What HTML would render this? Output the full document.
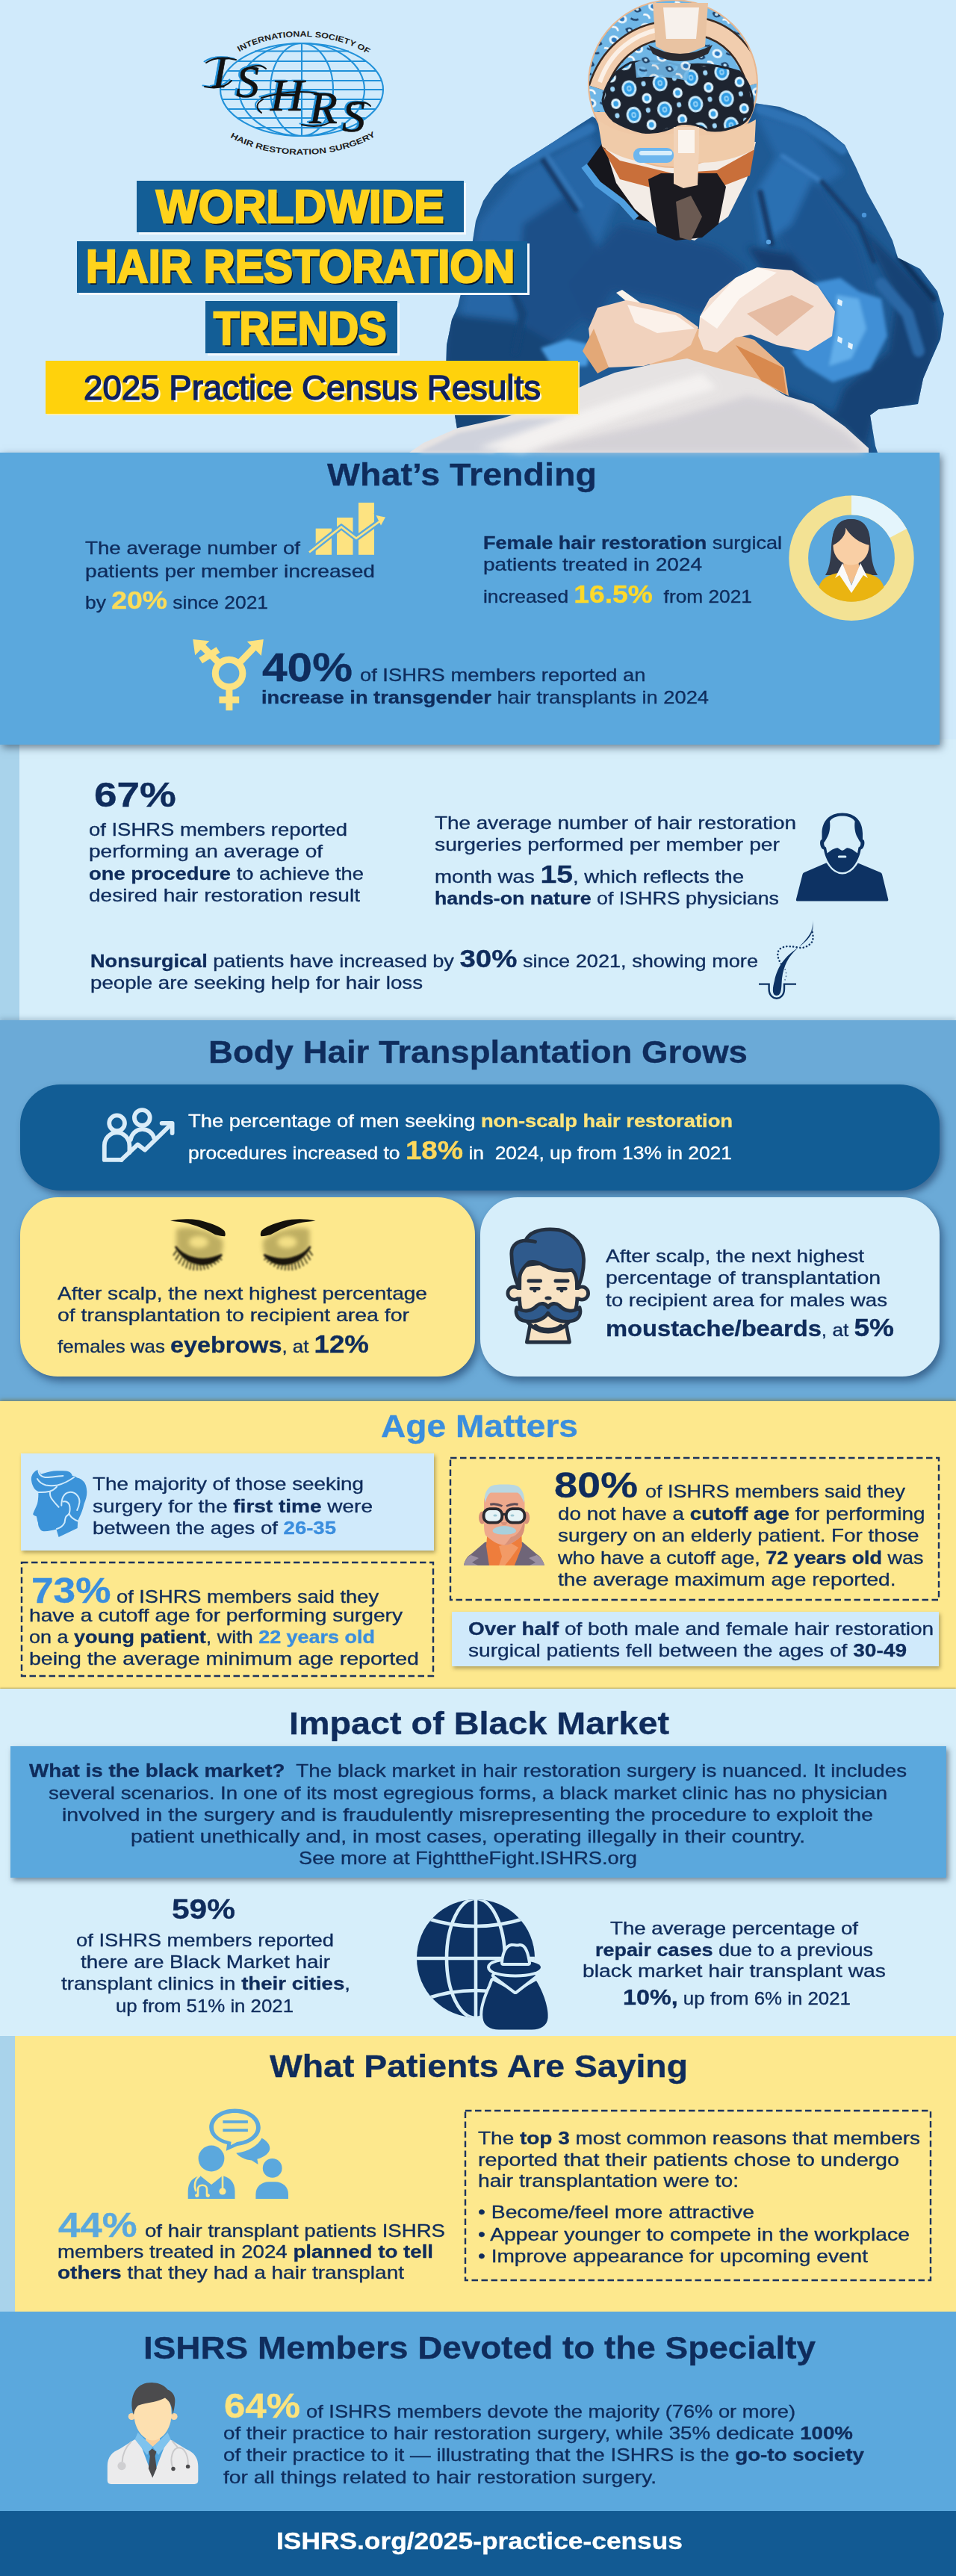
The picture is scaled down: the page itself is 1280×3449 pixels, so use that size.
<!DOCTYPE html>
<html lang="en"><head><meta charset="utf-8"><title>Worldwide Hair Restoration Trends - 2025 Practice Census Results</title>
<style>
html,body{margin:0;padding:0}
body{background:#d0eafb;font-family:"Liberation Sans",sans-serif;color:#0f2c5c}
#page{position:relative;width:1280px;height:3449px;overflow:hidden;background:#d0eafb}
.r{position:absolute}
.l{position:absolute;white-space:pre;line-height:0;transform-origin:0 0;color:#0f2c5c;-webkit-text-stroke:0.35px}
.l::before{content:"";display:inline-block;height:100px;width:0}
.l b{font-weight:bold}
svg{position:absolute;overflow:visible}
.y{color:#fce37c}
.bl{color:#3b8ede}

</style></head><body>
<div id="page">
<!-- section 2 (67%) background -->
<div class="r" style="left:0;top:990px;width:1280px;height:380px;background:#d6eefa"></div>
<div class="r" style="left:0;top:990px;width:26px;height:380px;background:#a9d3eb"></div>
<!-- Body hair section -->
<div class="r" style="left:0;top:1366px;width:1280px;height:512px;background:#6baad7;box-shadow:0 -3px 6px rgba(60,90,120,.25)"></div>
<div class="r" style="left:27px;top:1452px;width:1231px;height:142px;border-radius:54px;background:#125d95;box-shadow:4px 5px 10px rgba(20,50,90,.55)"></div>
<div class="r" style="left:27px;top:1603px;width:609px;height:240px;border-radius:50px;background:#fde88d;box-shadow:4px 6px 12px rgba(20,50,90,.6)"></div>
<div class="r" style="left:643px;top:1603px;width:615px;height:240px;border-radius:50px;background:#d6eefa;box-shadow:4px 6px 12px rgba(20,50,90,.6)"></div>
<!-- trending panel (above section 2) -->
<div class="r" style="left:0;top:606px;width:1258px;height:391px;background:#5ba8dd;box-shadow:3px 4px 10px rgba(40,60,80,.6)"></div>
<!-- Age matters -->
<div class="r" style="left:0;top:1876px;width:1280px;height:386px;background:#fde88d;box-shadow:0 -2px 5px rgba(120,100,20,.5)"></div>
<div class="r" style="left:28px;top:1946px;width:553px;height:130px;background:#d0eafb;box-shadow:2px 3px 5px rgba(90,80,40,.45)"></div>
<svg style="left:28px;top:2091px" width="553" height="154"><rect x="1" y="1" width="551" height="152" fill="none" stroke="#1c335e" stroke-width="2.4" stroke-dasharray="8.5 4.5"/></svg>
<svg style="left:602px;top:1951px" width="656" height="192"><rect x="1" y="1" width="654" height="190" fill="none" stroke="#1c335e" stroke-width="2.4" stroke-dasharray="8.5 4.5"/></svg>
<div class="r" style="left:605px;top:2158px;width:652px;height:73px;background:#d0eafb;box-shadow:2px 3px 5px rgba(90,80,40,.45)"></div>
<!-- Black market -->
<div class="r" style="left:0;top:2261px;width:1280px;height:466px;background:#d6eefa;box-shadow:0 -1px 2px rgba(110,100,40,.5)"></div>
<div class="r" style="left:14px;top:2338px;width:1253px;height:176px;background:#5ba8dd;box-shadow:3px 4px 7px rgba(40,60,80,.55)"></div>
<!-- Patients -->
<div class="r" style="left:0;top:2726px;width:1280px;height:369px;background:#fde88d"></div>
<div class="r" style="left:0;top:2726px;width:20px;height:369px;background:#a9d3eb"></div>
<svg style="left:622px;top:2825px" width="625" height="229"><rect x="1" y="1" width="623" height="227" fill="none" stroke="#1c335e" stroke-width="2.4" stroke-dasharray="8.5 4.5"/></svg>
<!-- Members -->
<div class="r" style="left:0;top:3095px;width:1280px;height:268px;background:#5ba8dd"></div>
<div class="r" style="left:0;top:3362px;width:1280px;height:87px;background:#125a93"></div>

<svg style="left:0;top:0" width="1280" height="606" viewBox="0 0 1280 606">
<defs>
<filter id="sb1" x="-40%" y="-40%" width="180%" height="180%"><feGaussianBlur stdDeviation="5"/></filter>
<filter id="sb2" x="-40%" y="-40%" width="180%" height="180%"><feGaussianBlur stdDeviation="2"/></filter>
<clipPath id="gownclip"><path d="M793,156 L771,170 741,190 711,209 684,226 662,247 647,269 637,296 633,322 624,364 613,410 605,428 598,462 597,500 603,530 609,556 613,580 640,606 1175,606 1172,597 1165,556 1176,548 1229,541 1236,507 1247,481 1259,454 1264,420 1255,390 1232,360 1202,345 1195,322 1180,292 1161,258 1146,224 1131,194 1108,175 1078,156 1044,143 1010,138 1000,150 800,160Z"/></clipPath>
<pattern id="capdots" x="0" y="0" width="42" height="36" patternUnits="userSpaceOnUse" patternTransform="rotate(-10)">
<rect width="42" height="36" fill="#1d2430"/>
<ellipse cx="11" cy="11" rx="10" ry="11" fill="#c8eafc"/><ellipse cx="11" cy="11" rx="7" ry="8" fill="#2f9be3"/><ellipse cx="11" cy="11" rx="3.4" ry="4" fill="#8fd0f7"/><ellipse cx="11" cy="11" rx="1.5" ry="1.8" fill="#2f9be3"/>
<ellipse cx="32" cy="28" rx="6.5" ry="7" fill="#dff3fd"/><ellipse cx="32" cy="28" rx="3.4" ry="3.8" fill="#3aa2e6"/>
<ellipse cx="31" cy="8" rx="3" ry="3.4" fill="#9fd6f8"/>
</pattern>
<pattern id="captop" x="0" y="0" width="34" height="30" patternUnits="userSpaceOnUse" patternTransform="rotate(20)">
<rect width="34" height="30" fill="#6fb6e6"/>
<ellipse cx="9" cy="9" rx="7" ry="6" fill="#e8f6fe"/><ellipse cx="9" cy="9" rx="3.6" ry="3" fill="#2a78c0"/>
<path d="M18,20 q6,-8 12,0 q-6,8 -12,0z" fill="#1d3f66"/><ellipse cx="24" cy="20" rx="2.4" ry="2" fill="#bfe6fb"/>
<path d="M0,24 q6,-4 10,2" stroke="#fdfdfd" stroke-width="2.5" fill="none"/>
<path d="M20,4 q6,2 10,-2" stroke="#1d3f66" stroke-width="2.5" fill="none"/>
</pattern>
</defs>
<!-- gown -->
<g clip-path="url(#gownclip)">
<rect x="580" y="120" width="700" height="500" fill="#1f5a94"/>
<g filter="url(#sb1)">
<path d="M640,300 L700,230 790,180 830,260 800,330 720,420 650,470 610,460Z" fill="#2766a6"/>
<path d="M700,300 L760,260 800,330 790,420 730,470 690,420Z" fill="#1b4f88"/>
<path d="M830,300 L960,330 1000,360 940,420 880,400 820,390 790,440 760,380Z" fill="#1b4e86"/>
<path d="M600,420 L690,430 760,470 720,520 620,590 590,560Z" fill="#184577"/>
<path d="M1010,150 L1080,170 1130,230 1100,250 1040,210Z" fill="#2767a8"/>
<path d="M1020,230 L1100,250 1150,330 1170,400 1100,380 1050,330Z" fill="#1c5490"/>
<path d="M1040,210 L1090,235 1060,300 1020,330 1010,260Z" fill="#2c70b2"/>
<path d="M1150,300 L1200,350 1250,400 1260,450 1230,540 1170,560 1160,600 1100,600 1130,520 1190,470 1200,400Z" fill="#174375"/>
<path d="M1000,330 L1060,340 1090,380 1020,360Z" fill="#163e70"/>
<path d="M1050,520 L1130,560 1170,606 1050,606Z" fill="#184577"/>
</g>
<g filter="url(#sb2)" fill="none" stroke-linecap="round">
<path d="M726,213 L771,281" stroke="#143a69" stroke-width="7"/>
<path d="M734,210 L778,276" stroke="#3577b8" stroke-width="5"/>
<path d="M684,226 L740,196 790,172" stroke="#2f72b4" stroke-width="14"/>
<path d="M1018,146 L1078,166 1128,200" stroke="#2f72b4" stroke-width="14"/>
<path d="M1048,209 L1100,243" stroke="#3b7fc2" stroke-width="6"/>
<path d="M1018,258 L1033,326" stroke="#143a69" stroke-width="8"/>
<path d="M1100,243 L1150,300 1170,350" stroke="#143a69" stroke-width="6"/>
<path d="M660,330 L700,420 690,470" stroke="#174477" stroke-width="10"/>
<path d="M1180,380 L1215,420 1230,470" stroke="#2a67a6" stroke-width="16"/>
<path d="M1205,345 L1250,400" stroke="#10305c" stroke-width="8"/>
</g>
<circle cx="1029" cy="324" r="3.2" fill="#5aa4e4"/><circle cx="1157" cy="288" r="3.2" fill="#4a94d8"/>
<!-- light cuffs -->
<g filter="url(#sb2)">
<path d="M1089,379 L1125,372 1150,390 1180,400 1188,450 1165,495 1115,512 1078,490 1060,470 1100,450 1118,417Z" fill="#3f8fd6"/>
<path d="M1120,395 L1150,400 1160,440 1140,480 1110,490 1120,440Z" fill="#62aeea"/>
<path d="M724,466 L760,454 792,462 786,490 740,492Z" fill="#4a9be0"/>
</g>
<path d="M1122,400 l6,3 -1,7 -6,-3z M1122,450 l6,3 -1,7 -6,-3z M1136,458 l6,3 -1,7 -6,-3z" fill="#e4f3fd"/>

</g>
<!-- patient skin -->
<path d="M905,440 L960,440 1010,455 1050,492 1056,530 1014,510 958,494 920,482 872,490 850,470Z" fill="#e8b48a"/>
<path d="M985,462 L1048,492 1053,528 1020,510Z" fill="#d8894e"/>
<!-- drape -->
<path d="M548,606 L567,593 613,573 673,560 729,541 786,514 823,499 872,488 920,480 958,492 1014,507 1052,530 1089,541 1131,571 1163,600 1163,606Z" fill="#e6e3e3"/>
<path d="M560,606 L613,580 700,562 760,560 700,585 660,606Z" fill="#cfd2dc" filter="url(#sb2)"/>
<path d="M700,606 L900,560 1000,530 1060,540 1131,578 1160,606Z" fill="#d0ced4" opacity=".8" filter="url(#sb1)"/><path d="M640,600 Q800,540 940,500 L960,520 Q820,560 700,606Z" fill="#f4f2f1" opacity=".95" filter="url(#sb1)"/>
<!-- left glove + tool -->
<path d="M825,392 L833,388 878,420 870,430Z" fill="#fbf3ea"/>
<path d="M788,440 L800,412 838,402 872,408 910,420 935,438 925,462 900,478 862,490 815,492 792,474Z" fill="#f1d2bd"/>
<path d="M840,408 L905,422 930,440 880,446 850,432Z" fill="#fbf1ea"/>
<path d="M780,470 L795,440 815,492 800,500Z" fill="#e3a877"/>
<!-- right glove -->
<path d="M937,424 L950,400 985,372 1014,358 1060,362 1095,383 1118,417 1114,450 1082,470 1040,462 1005,448 985,452 960,472 942,468 935,450Z" fill="#f4e0d4"/>
<path d="M1000,420 L1060,395 1090,410 1040,450Z" fill="#e6bca3"/>
<path d="M937,424 L985,372 1014,358 1040,365 990,400 960,440Z" fill="#fcf6f1"/>
<!-- head -->
<g>
<!-- dark collar -->
<path d="M786,220 L812,184 850,262 874,298 846,292 818,262Z" fill="#16161c"/>
<path d="M782,222 L800,246 832,270 852,292" fill="none" stroke="#4f9fe0" stroke-width="9" stroke-linejoin="round"/>
<!-- lower face mask white -->
<path d="M808,190 L1012,190 1000,240 975,290 930,322 885,310 850,280 825,245Z" fill="#f3ece6"/>
<!-- orange band -->
<path d="M806,196 L830,215 900,232 960,228 1010,200 1004,235 960,252 890,256 830,240Z" fill="#c96f3a"/>
<!-- black loupe frame -->
<path d="M868,240 L885,232 960,232 972,250 962,300 940,318 905,322 880,312 874,280Z" fill="#1b1a20"/>
<path d="M905,270 L925,262 940,290 925,322 910,318Z" fill="#6b5a52"/>
<!-- skull/headband -->
<clipPath id="headclip"><ellipse cx="901" cy="112" rx="113" ry="112"/></clipPath>
<ellipse cx="901" cy="112" rx="113" ry="112" fill="#efc8a6"/>
<g clip-path="url(#headclip)">
<path d="M780,150 L780,-5 1020,-5 1020,150 Z" fill="url(#captop)"/>
<path d="M800,118 C815,70 850,48 880,42 M940,36 C975,44 1000,70 1012,112" fill="none" stroke="#3a2a22" stroke-width="26" stroke-linecap="butt"/>
<path d="M800,118 C815,70 850,48 880,42 M940,36 C975,44 1000,70 1012,112" fill="none" stroke="#f1cdae" stroke-width="21" stroke-linecap="butt"/>
<path d="M803,110 C818,66 852,46 880,40" fill="none" stroke="#fbf0e6" stroke-width="6"/>
</g>
<ellipse cx="901" cy="112" rx="113" ry="112" fill="none" stroke="#e9b78f" stroke-width="2"/>
<!-- cap patterned area -->
<path d="M807,134 Q812,100 844,84 Q880,78 911,88 Q950,82 990,96 Q1008,115 1008,142 Q1005,160 991,167 Q965,178 947,174 Q925,162 907,167 Q885,180 860,177 Q838,172 822,162 Q808,150 807,134Z" fill="url(#capdots)" stroke="#1d2430" stroke-width="3"/>
<path d="M850,84 Q880,70 925,86 L920,108 Q885,100 852,104Z" fill="url(#captop)" opacity=".9"/>
<!-- headlight top -->
<path d="M874,4 L948,4 944,62 920,72 896,72 878,62Z" fill="#e9c3a2"/>
<path d="M888,10 L936,10 932,52 892,52Z" fill="#f7f1ec"/>
<path d="M868,60 Q910,84 954,60 L948,72 Q910,92 874,72Z" fill="#2a2a30"/>
<!-- forehead band beige -->
<path d="M800,160 Q840,190 905,178 Q960,190 1012,160 L1010,200 Q960,226 905,214 Q850,226 806,196Z" fill="#f0cba9"/>
<!-- central vertical piece -->
<path d="M902,170 L936,170 936,200 934,248 915,252 902,246Z" fill="#f2d3b8"/>
<path d="M908,174 L930,174 930,205 908,205Z" fill="#faf4ee"/>
<!-- loupe light-blue cylinder -->
<rect x="848" y="198" width="54" height="20" rx="9" fill="#6db6ee"/>
<rect x="856" y="202" width="44" height="6" rx="3" fill="#d8eefb"/>
</g>
</svg>

<!-- hero title boxes -->
<div class="r" style="left:182.5px;top:241.7px;width:438.3px;height:69px;background:#135e96;box-shadow:3px 3px 0 #f4fafe"></div>
<div class="r" style="left:102.7px;top:322.7px;width:603.3px;height:69.6px;background:#135e96;box-shadow:3px 3px 0 #f4fafe"></div>
<div class="r" style="left:275px;top:402.8px;width:256.8px;height:70.2px;background:#135e96;box-shadow:3px 3px 0 #f4fafe"></div>
<div class="r" style="left:61px;top:483px;width:713px;height:71px;background:#ffd20c;box-shadow:2px 2px 0 rgba(255,240,170,.9)"></div>

<svg style="left:0;top:0" width="640" height="240" viewBox="0 0 640 240">
<g fill="none" stroke="#2191d9" stroke-width="2.1">
<ellipse cx="404" cy="120" rx="109" ry="62"/>
<ellipse cx="404" cy="120" rx="84" ry="62"/>
<ellipse cx="404" cy="120" rx="42" ry="62"/>
<path d="M404,58V182M295,120H513M341,68.5H467M318,82H490M304,95H504M297,108H511M297,133H511M304,146H504M318,158H490M341,171H467"/>
</g>
<path id="lgtop" d="M300,85.5 A119,71 0 0 1 510,87.7" fill="none"/>
<path id="lgbot" d="M290,171.2 A141,87 0 0 0 518,171.2" fill="none"/>
<text font-family="Liberation Sans, sans-serif" font-weight="bold" font-size="10.6" fill="#1c1c1c"><textPath href="#lgtop" startOffset="26" textLength="180" lengthAdjust="spacingAndGlyphs">INTERNATIONAL SOCIETY OF</textPath></text>
<text font-family="Liberation Sans, sans-serif" font-weight="bold" font-size="10.6" fill="#1c1c1c"><textPath href="#lgbot" startOffset="22" textLength="203" lengthAdjust="spacingAndGlyphs">HAIR RESTORATION SURGERY</textPath></text>
<g font-family="Liberation Serif, serif" font-style="italic" font-size="62" stroke-width="0.7">
<g fill="#2191d9" stroke="#2191d9" transform="translate(-2.5,-1.5)">
<text x="284" y="117">I</text><text x="316" y="130">S</text><text x="362" y="148">H</text><text x="414" y="165">R</text><text x="458" y="176">S</text>
<path d="M276,84 Q290,74 316,80 M274,116 Q298,121 310,108 M350,131 Q390,119 426,125 M350,151 Q338,141 352,133 M404,167 Q430,173 446,161 M330,92 Q348,84 356,92 M474,140 Q490,134 496,142" fill="none" stroke-width="2" stroke-linecap="round"/>
</g>
<g fill="#121212" stroke="#121212">
<text x="284" y="117">I</text><text x="316" y="130">S</text><text x="362" y="148">H</text><text x="414" y="165">R</text><text x="458" y="176">S</text>
<path d="M276,84 Q290,74 316,80 M274,116 Q298,121 310,108 M350,131 Q390,119 426,125 M350,151 Q338,141 352,133 M404,167 Q430,173 446,161 M330,92 Q348,84 356,92 M474,140 Q490,134 496,142" fill="none" stroke-width="2" stroke-linecap="round"/>
</g>
</g>
</svg>

<!-- bar chart icon -->
<svg style="left:400px;top:660px" width="140" height="100" viewBox="400 660 140 100">
<g fill="#fde381"><rect x="422.7" y="707.6" width="21.3" height="35.2"/><rect x="451" y="693" width="21.5" height="49.8"/><rect x="480" y="673" width="21" height="69.8"/></g>
<path d="M414,739.5 L457,705.4 477,720.8 509,697.5" fill="none" stroke="#5ba8dd" stroke-width="7.5"/>
<path d="M503,689 L518,691 511,705Z" fill="#5ba8dd" stroke="#5ba8dd" stroke-width="3"/>
<path d="M414,739.5 L457,705.4 477,720.8 509,697.5" fill="none" stroke="#fde381" stroke-width="2.7"/>
<path d="M503.5,690 L516,692.5 510,703.5Z" fill="#fde381"/>
</svg>
<!-- donut + female avatar -->
<svg style="left:1040px;top:650px" width="200" height="200" viewBox="1040 650 200 200">
<defs><clipPath id="dclip"><circle cx="1140" cy="747.3" r="58.5"/></clipPath></defs>
<circle cx="1140" cy="747.3" r="70.8" fill="none" stroke="#f3e294" stroke-width="25.8"/>
<path d="M1140,663.6 A83.7,83.7 0 0 1 1213.9,708 L1191.3,720 A58,58 0 0 0 1140,689.3Z" fill="#e4f5fc"/>
<g clip-path="url(#dclip)">
<path d="M1139.4,695 C1117,695 1114,716 1113,735 C1112,752 1110,762 1105,770 L1175,770 C1169,760 1167,750 1166,735 C1165,716 1162,695 1139.4,695Z" fill="#333a4a"/>
<path d="M1130,745 L1149,745 1151,772 1128,772Z" fill="#f4c08e"/>
<path d="M1095,806 C1094,780 1100,772 1122,767 L1140,790 1158,767 C1180,772 1186,780 1185,806Z" fill="#eab411"/>
<path d="M1128,754 L1118,774 1124,770 1140,794 1156,770 1162,774 1152,754 1140,784Z" fill="#fafafa"/>
<path d="M1129,757 L1151,757 1140,783Z" fill="#f4c08e"/>
<ellipse cx="1139.5" cy="731" rx="24" ry="25.5" fill="#f9cfa5"/>
<path d="M1139.4,695 C1120,695 1113,712 1115,730 C1124,726 1134,716 1132,706 C1138,718 1152,728 1165,730 C1166,712 1160,695 1139.4,695Z" fill="#333a4a"/>
</g>
</svg>
<!-- transgender symbol -->
<svg style="left:240px;top:840px" width="140" height="120" viewBox="240 840 140 120">
<g fill="none" stroke="#fde381" stroke-width="9">
<circle cx="306.6" cy="901.5" r="18.3"/>
<path d="M306.9,920V951.3M293.4,937H320.2M320,888 L343,864M293.5,888 L269,863.5M268.6,884.5 L292,870"/>
</g>
<path d="M352.8,856 L330.8,859 349.8,878Z M258.3,856 L280.3,858.3 261.2,877.3Z" fill="#fde381"/>
</svg>

<!-- bald bearded man -->
<svg style="left:1050px;top:1070px" width="160" height="160" viewBox="1050 1070 160 160">
<path d="M1067.4,1206.4 Q1065.4,1206.4 1066,1204 L1074.6,1170.5 Q1075,1168.8 1077,1168 L1106,1155.4 L1148.7,1155.4 L1178.6,1168 Q1180.6,1168.8 1181,1170.5 L1189.2,1204 Q1189.8,1206.4 1187.8,1206.4Z" fill="#0d3263"/>
<path d="M1127.8,1088.4 C1110,1088.4 1100.5,1100 1100.5,1116 L1100.5,1124 C1096.6,1124 1097.5,1136 1103,1137.5 C1105,1150 1114,1168 1127.8,1168 C1141.6,1168 1150.6,1150 1152.6,1137.5 C1158,1136 1159,1124 1155,1124 L1155,1116 C1155,1100 1145.6,1088.4 1127.8,1088.4Z" fill="#0d3263" stroke="#d6eefa" stroke-width="5" paint-order="stroke"/>
<path d="M1111,1099.5 C1115,1094 1122,1092.5 1127.8,1092.5 C1133.6,1092.5 1140.6,1094 1144.6,1099.5 C1143.6,1108 1145,1116 1148,1121 L1151,1126.5 C1153.4,1127 1152.6,1134 1149.5,1134.5 L1148,1142.6 C1144,1139 1138,1135 1134,1135.3 C1131,1137 1129,1138.8 1127.8,1138.8 C1126.6,1138.8 1124.6,1137 1121.6,1135.3 C1117.6,1135 1111.6,1139 1107.6,1142.6 L1106,1134.5 C1103,1134 1102.2,1127 1104.6,1126.5 L1107.6,1121 C1110.6,1116 1112,1108 1111,1099.5Z" fill="#d6eefa"/>
<rect x="1121.8" y="1145.6" width="11.6" height="3" rx="1.5" fill="#d6eefa"/>
</svg>
<!-- hair follicle -->
<svg style="left:1000px;top:1225px" width="110" height="120" viewBox="1000 1225 110 120">
<defs><linearGradient id="hfade" x1="0" y1="1" x2="0" y2="0"><stop offset="0" stop-color="#0d3263"/><stop offset="0.8" stop-color="#0d3263"/><stop offset="1" stop-color="#0d3263" stop-opacity="0"/></linearGradient></defs>
<path d="M1016,1317.6 H1029.6 V1324 C1029.6,1341 1050,1341 1050,1324 V1317.6 H1066" fill="none" stroke="#0d3263" stroke-width="2.4"/>
<path d="M1039.7,1333 C1033,1333 1034.5,1322 1037,1313 C1040,1298 1048,1282 1068.5,1269 C1078,1262 1086,1254 1088,1246 C1089.5,1240 1089,1235 1088.6,1231 C1088,1238 1087,1244 1086,1247 C1083,1254 1076,1262 1068,1269.5 C1056,1280 1049.5,1292 1047,1310 C1046,1322 1047,1333 1039.7,1333Z" fill="url(#hfade)"/>
<path d="M1046,1290.6 C1040,1282 1039.5,1273 1046,1269.3 C1052,1266 1060,1267 1069,1268.7 C1076,1270 1083,1267 1087.5,1260.7 C1089.5,1256 1088.5,1249 1086.3,1244.6" fill="none" stroke="#0d3263" stroke-width="2.5" stroke-dasharray="0.1 4.4" stroke-linecap="round"/>
<path d="M1051.2,1298 C1053.5,1303 1053,1309 1050.6,1312.5" fill="none" stroke="#0d3263" stroke-opacity=".6" stroke-width="1.8" stroke-dasharray="0.1 4.6" stroke-linecap="round"/>
</svg>

<!-- people + arrow -->
<svg style="left:120px;top:1465px" width="140" height="110" viewBox="120 1465 140 110">
<g fill="none" stroke="#d9ecf8" stroke-width="5.8" stroke-linejoin="round" stroke-linecap="round">
<circle cx="156.6" cy="1503.8" r="10.4"/>
<circle cx="190.3" cy="1496.5" r="10.4"/>
<path d="M162.5,1552.9 H139.8 V1534 A16.8,17.7 0 0 1 173.4,1534 V1543"/>
<path d="M174.9,1526 A16.2,17 0 0 1 206.4,1524"/>
<path d="M162.5,1552.9 L184.4,1532.4 194,1539.7 228.4,1506"/>
<path d="M216.6,1503.8 H230.6 V1517"/>
</g>
</svg>
<!-- eyes / eyebrows -->
<svg style="left:210px;top:1615px" width="230" height="100" viewBox="210 1615 230 100">
<defs><filter id="eb1" x="-20%" y="-40%" width="140%" height="180%"><feGaussianBlur stdDeviation="3.2"/></filter><filter id="eb2" x="-20%" y="-40%" width="140%" height="180%"><feGaussianBlur stdDeviation="1"/></filter>
<g id="eyeL">
<path d="M236,1646 C250,1640 280,1646 298,1660 C300,1672 296,1682 290,1686 C270,1696 248,1690 236,1670Z" fill="#6b6128" opacity=".42" filter="url(#eb1)"/>
<ellipse cx="266" cy="1663" rx="13" ry="8" fill="#fde88d" opacity=".85" filter="url(#eb1)"/>
<path d="M235,1669 C246,1684 272,1692 297,1680 C280,1700 250,1696 235,1669Z" fill="#1a170c" stroke="#1a170c" stroke-width="2.5" filter="url(#eb2)"/>
<path d="M237,1674 L232,1681 M240,1679 L235,1687 M244,1683 L239,1692 M248,1686 L244,1695 M252,1688 L249,1698 M256,1690 L254,1700 M260,1691 L259,1701 M264,1692 L264,1701 M268,1692 L269,1701 M272,1692 L274,1700 M276,1691 L279,1699 M280,1689 L284,1696 M284,1687 L289,1693 M288,1685 L293,1690 M292,1683 L297,1687" stroke="#1a170c" stroke-width="1.5" fill="none" filter="url(#eb2)"/>
<path d="M228,1634.6 C240,1631.5 258,1631.5 270,1634.5 C284,1638 296,1643 300.5,1648 C302,1651 302,1654 301,1655.2 C296,1655 292,1654 288,1653 C276,1646 262,1640 246,1636.8 C238,1635.5 232,1635.3 228,1634.6Z" fill="#14120c"/>
</g></defs>
<use href="#eyeL"/>
<use href="#eyeL" transform="translate(650.5,0) scale(-1,1)"/>
</svg>
<!-- moustache man -->
<svg style="left:660px;top:1630px" width="140" height="180" viewBox="660 1630 140 180">
<g stroke="#243040" stroke-width="4.8" stroke-linejoin="round" stroke-linecap="round">
<!-- neck -->
<path d="M711,1768 L705.4,1797 H762.5 L757,1768Z" fill="#f8e3c4"/>
<!-- ears -->
<circle cx="688.5" cy="1731.5" r="8.6" fill="#f8e3c4"/><circle cx="779" cy="1731.5" r="8.6" fill="#f8e3c4"/>
<!-- face -->
<path d="M696,1700 C700,1690 740,1688 772,1700 L772.8,1740 C772,1765 755,1783 734,1783 C713,1783 696,1765 695.5,1740Z" fill="#f8e3c4"/>
<!-- hair -->
<path d="M695,1725 C693,1710 697,1700 708.3,1690 C716,1688 722,1691 730,1695 C738,1700 748,1702.5 765.4,1700.3 C771,1704 772.8,1712 772.8,1725 C778,1716 782,1700 781.5,1685.6 C781,1668 770,1652 747.9,1646.6 C735,1645 724,1646 716,1649.5 C710,1652 706,1656 703.9,1660.8 C695,1661 684,1666 684.9,1680 C685,1696 689,1712 695,1725Z" fill="#2f5a8c"/>
<path d="M703.9,1660.8 C708,1661.5 713,1661.5 716.5,1662.5" fill="none"/>
<!-- moustache -->
<path d="M733.8,1750.5 C731,1744.5 724,1744 719,1748 C712,1755.5 701,1758 692,1750.5 C689.5,1758 692,1765 700,1768 C712,1771.5 728,1768 733.8,1758 C740,1768 756,1771.5 768,1768 C776,1765 778.5,1758 776,1750.5 C767,1758 756,1755.5 749,1748 C744,1744 737,1744.5 733.8,1750.5Z" fill="#2f5a8c"/>
<path d="M717,1775 C724,1782 744,1782 751,1775" fill="none"/>
<!-- brows, eyes -->
<path d="M708,1714.9 H723.5 M744,1714.9 H760" fill="none" stroke-width="5"/>
<path d="M711,1725.2 H721.5 M747,1725.2 H757.5" fill="none" stroke-width="4.4"/>
</g>
<rect x="692.5" y="1727" width="6" height="9.5" fill="#f8e3c4"/><rect x="769.5" y="1727" width="6" height="9.5" fill="#f8e3c4"/><circle cx="716" cy="1728.3" r="2.3" fill="#243040"/><circle cx="752" cy="1728.3" r="2.3" fill="#243040"/>
<ellipse cx="734" cy="1738" rx="4.6" ry="2.6" fill="#243040"/>
</svg>

<!-- head profile -->
<svg style="left:30px;top:1955px" width="100" height="115" viewBox="30 1955 100 115">
<path d="M51.4,1967.6 C45,1970 41,1976 42,1982 C43,1990 47,1995.5 50.9,1996.8 L51.4,2000 C51.4,2005 50.8,2010 49.9,2013.6 C48,2019 45.5,2023 44.1,2027.2 C45,2029 47,2029.5 48.6,2030 L49.4,2032.4 L50,2036 L50.9,2038.7 C51,2042 52,2045 53.5,2047 C55,2049.6 57,2050.4 59.3,2050.2 C65,2050 71,2048.6 75.4,2047.4 L78.6,2058 L103.7,2046 L104.3,2035.5 C108,2029 111,2021 112.6,2013.6 C115,2008 116.6,2002 116.3,1996.8 C116,1991 114.6,1987 112.6,1984.3 C110,1981 107,1979.5 103.2,1978.5 C101,1977 99,1976.3 96.9,1976 C96,1972.5 93,1970 88.6,1969.6 C83,1969 77,1969 71.8,1969.6 C66,1970.5 60,1972 55.1,1973.8 C53.5,1972 52.5,1969.5 51.4,1967.6Z" fill="#3b93d9"/>
<g fill="none" stroke="#d0eafb" stroke-width="2" stroke-linecap="round">
<path d="M51.4,1967.6 C51.5,1971 52.5,1973.5 54,1974.9 C57,1977.6 60.5,1978.3 64.5,1978 C71,1977.6 78,1976.6 84.4,1975.9"/>
<path d="M49.9,1980.1 C52.5,1984.5 56.5,1987.3 61.4,1988.5 C66.5,1989.6 72,1989.5 77,1988.5 C85,1986.6 92.5,1982.6 99,1978"/>
<path d="M51,1997.9 C56,1998.4 61.5,1998 66.6,1996.8 C70.5,1995.6 73.6,1993.4 76,1990.6"/>
<path d="M67,1997.9 C66.6,2001.5 67.6,2004.6 69.7,2007.3 C72,2010.6 75.2,2014.2 78.6,2017.8"/>
<path d="M82.3,2015.7 C82.3,2011.6 82.8,2007.5 84.4,2004.2 C86.2,2000.6 89,1998.4 92.8,1997.9 C97,1997.5 100.8,1999 103.2,2002 C105.6,2004.6 106.6,2008 106.4,2011.5 C106,2015.4 104.8,2018.8 103.2,2022"/>
<path d="M84.4,2010.4 C88,2009.6 91.3,2011.4 92.8,2014.6 C94,2018.6 93.8,2022.6 92.8,2026 C91.8,2028 90,2029.2 88.6,2030.3 C87,2033 87,2036 86.5,2038.7 C84.5,2043 80.5,2045.8 76,2047"/>
<path d="M92.8,2027.2 C93.8,2029.2 95.2,2031 96.9,2032.4 C99.2,2034.2 101.7,2035.6 104.3,2036.6"/>
</g>
</svg>
<!-- elderly man -->
<svg style="left:610px;top:1975px" width="130" height="130" viewBox="610 1975 130 130">
<path d="M621,2096 C622,2090 625,2084 630.4,2081 L649.4,2064.7 L699.7,2064.7 L718.8,2081 C724,2084 727.5,2090 729,2096Z" fill="#6f6578"/>
<path d="M621,2096 C622,2090 625,2085 630.4,2082 L641,2086 L632,2092 L640,2096Z M729,2096 C727.5,2090 724,2085 718.8,2082 L708,2086 L717,2092 L709,2096Z" fill="#9b90a2"/>
<path d="M652.2,2056 L698.4,2056 L699,2070 L688.9,2096 L654.9,2096 L651,2070Z" fill="#ee7d3c"/>
<path d="M668,2070 L684,2066 L694,2072 L684,2086 L676,2096 L668,2096 L672,2084Z" fill="#f29a66"/>
<ellipse cx="645.6" cy="2032" rx="4.6" ry="8.6" fill="#d8927a"/><ellipse cx="704.6" cy="2032" rx="4.6" ry="8.6" fill="#d8927a"/>
<path d="M648,2012 C648,1999 656,1993 675,1993 C694,1993 702.5,1999 702.5,2012 L702.5,2040 C702.5,2050 700,2054 698.4,2056.6 C692,2062 684,2068.8 675,2068.8 C666,2068.8 658,2062 650.8,2056.6 C649,2054 648,2050 648,2040Z" fill="#eea98c"/>
<path d="M675,2069 C684,2068.8 692,2062 698.4,2056.6 C700,2054 702.5,2050 702.5,2040 L702.5,2030 C700,2046 694,2056 684,2058 L678,2066Z" fill="#d8927a"/>
<path d="M649.4,2012 C648,2003 650,1996 655.6,1991 C660,1987.6 668,1987.6 675,1987.6 C682,1987.6 690,1987.6 695,1991 C700.5,1996 702.5,2003 701.8,2012 C699,2006 697,2001 693,1998.6 L657,1998.6 C653,2001 651.5,2006 649.4,2012Z" fill="#b9d7e2"/>
<path d="M656.2,2014.4 C661,2013 667,2014 672.5,2016.5 M678,2016.5 C683.5,2014 689.5,2013 693.6,2014.4" fill="none" stroke="#5e4c56" stroke-width="3"/>
<rect x="647.6" y="2020.2" width="24.6" height="18.4" rx="8" fill="#e6f3f6" stroke="#2a2a30" stroke-width="3.8"/>
<rect x="677.8" y="2020.2" width="24.6" height="18.4" rx="8" fill="#e6f3f6" stroke="#2a2a30" stroke-width="3.8"/>
<path d="M671.5,2027.5 H678.5" stroke="#2a2a30" stroke-width="3.4"/>
<ellipse cx="663" cy="2029" rx="2.6" ry="1.5" fill="#9cc7d3"/><ellipse cx="686" cy="2029" rx="2.6" ry="1.5" fill="#9cc7d3"/>
<path d="M675,2043 C682,2043 691,2046 691,2049.5 C691,2053 684,2054.6 675.3,2054.6 C666.6,2054.6 659.6,2053 659.6,2049.5 C659.6,2046 668,2043 675,2043Z" fill="#a9d0dc"/>
<path d="M670,2038 L680,2038 677,2042 673,2042Z" fill="#d8927a"/>
</svg>

<!-- globe + spy -->
<svg style="left:540px;top:2530px" width="210" height="200" viewBox="540 2530 210 200">
<defs><clipPath id="gclip"><circle cx="637" cy="2622" r="79"/></clipPath></defs>
<circle cx="637" cy="2622" r="79" fill="#0d3263"/>
<g clip-path="url(#gclip)" fill="none" stroke="#d6eefa" stroke-width="4.6">
<path d="M637,2540V2704M556,2622H718"/>
<ellipse cx="637" cy="2622" rx="39" ry="80"/>
<path d="M570,2568 Q637,2590 704,2568 M570,2676 Q637,2654 704,2676"/>
</g>
<!-- spy with light outline -->
<g stroke="#d6eefa" stroke-width="8" stroke-linejoin="round" paint-order="stroke">
<path d="M657,2660 C650,2675 645,2690 646.5,2702 C647.5,2712 656,2717.5 668,2717.5 L712,2717.5 C724,2717.5 732.5,2712 733.5,2702 C735,2690 728,2668 718,2652 L690,2668 L660,2652Z" fill="#0d3263"/>
<path d="M662,2645 L690,2666 L717,2645 L712,2638 L668,2638Z" fill="#0d3263"/>
<ellipse cx="690" cy="2634" rx="34" ry="9.5" fill="#0d3263"/>
<path d="M674,2628 C675,2615 679,2607 685,2606 C688,2605.5 692,2607.5 696,2606 C702,2606 705,2615 707,2628Z" fill="#0d3263"/>
</g>
</svg>
<!-- doctor/patient chat -->
<svg style="left:240px;top:2815px" width="160" height="140" viewBox="240 2815 160 140">
<g fill="#5ba8dd">
<path d="M314.5,2823.5 C334,2823.5 348.8,2834.5 348.8,2848.5 C348.8,2861 336,2870.5 318,2873 L302.8,2879.8 L304,2871 C290,2867.5 280.2,2859 280.2,2848.5 C280.2,2834.5 295,2823.5 314.5,2823.5Z M314.5,2829 C298,2829 286,2837.8 286,2848.5 C286,2857 293.5,2863.6 305,2866.6 L309.6,2867.8 L309,2872.2 L317.2,2868 C332,2866.2 343,2858.4 343,2848.5 C343,2837.8 331,2829 314.5,2829Z" fill-rule="evenodd"/>
<rect x="298.4" y="2839" width="33.5" height="3.8"/><rect x="298.4" y="2850.3" width="33.5" height="3.8"/>
<path d="M316.2,2882.8 C333,2880.5 345,2873 350.5,2862.7 C357,2866 361.5,2871 361.3,2877 C361,2882.5 354,2888 344.4,2890.8 L345.6,2898 L337,2892.4 C328,2892 321,2888 316.2,2882.8Z"/>
<circle cx="283" cy="2890" r="17.4"/>
<circle cx="364.7" cy="2902.9" r="12.9"/>
<path d="M342.4,2943.9 V2938 C342.4,2928 350,2921.3 360,2921.3 H368.4 C378.4,2921.3 386,2928 386,2938 V2943.9Z"/>
<path d="M251.7,2943.9 V2934 C251.7,2922 258,2915.5 268,2913 L283,2925 L298,2913 C308,2915.5 314.5,2922 314.5,2934 V2943.9Z"/>
</g>
<g fill="none" stroke="#fde88d" stroke-width="2.6" stroke-linecap="round">
<path d="M267,2913.5 C261,2918 259.4,2926 262,2933"/>
<path d="M265,2940 V2931 C265,2924 277,2924 277,2931 V2940"/>
<path d="M298,2913.5 V2929"/>
</g>
<circle cx="263.5" cy="2939.6" r="2.4" fill="#fde88d"/><circle cx="278.5" cy="2939.6" r="2.4" fill="#fde88d"/>
<circle cx="298" cy="2934" r="4.6" fill="#fde88d"/>
</svg>
<!-- doctor avatar -->
<svg style="left:130px;top:3180px" width="150" height="160" viewBox="130 3180 150 160">
<path d="M143.8,3321 V3302 C143.8,3290 150,3283 160,3279 L180.2,3266.3 L228,3266.3 L249,3279 C259,3283 265.3,3290 265.3,3302 V3321 Q265.3,3325.9 260.4,3325.9 H148.7 Q143.8,3325.9 143.8,3321Z" fill="#ebebec"/>
<path d="M184.1,3261.6 L225.7,3261.6 L204.5,3316.5Z" fill="#4ea3dd"/>
<path d="M195,3250 H214 V3268 L204.5,3276 L195,3268Z" fill="#fbd09c"/>
<path d="M184.6,3257 L180.6,3266 L197,3287 L204.5,3276Z M224.6,3257 L228.6,3266 L212,3287 L204.5,3276Z" fill="#7fc3ee"/>
<path d="M203.7,3278.5 L209.4,3282.5 L207.6,3288.4 L209.6,3305 L204.2,3317.6 L198.8,3305 L200.8,3288.4 L199,3282.5Z" fill="#4b4b4d"/>
<circle cx="176.3" cy="3235.5" r="4.6" fill="#fbd8a6"/><circle cx="233" cy="3235.5" r="4.6" fill="#fbd8a6"/>
<path d="M179.4,3232 C179.4,3212 188,3204 204.5,3204 C221,3204 229.6,3212 229.6,3232 C229.6,3252 217,3267.5 204.5,3267.5 C192,3267.5 179.4,3252 179.4,3232Z" fill="#fde0b0"/>
<path d="M178.8,3233 C175,3222 175.6,3210 181,3201 C187,3192 196,3189.6 205.3,3190.2 C214,3190.6 220,3194 224.5,3199.5 C231,3202 235,3208 234.3,3216 C234,3222 232.6,3228 231.2,3233.6 C231,3224 228.6,3216 221,3210.6 C216,3213 210.6,3215 205.3,3216 C198,3217.4 190.6,3218.6 184.9,3220.8 C181.6,3224 179.6,3228 178.8,3233Z" fill="#4b4b4d"/>
<g fill="none" stroke="#c9c9cb" stroke-width="2">
<path d="M175.5,3269.4 C168,3277 164,3286 163.7,3296"/>
<path d="M232,3305.5 C229,3299 229,3292 230.4,3286.7 C232,3280.5 235.6,3277.3 239.8,3277.3 C245,3277.3 249,3283 250.8,3289.8 C251.8,3294 252,3298 251.6,3302.4"/>
<path d="M230.4,3267.9 C233,3271 236,3274.5 238.3,3277.3"/>
</g>
<circle cx="163" cy="3301.6" r="5.6" fill="#cfcfd1"/>
<circle cx="232" cy="3305.5" r="2.7" fill="#4b4b4d"/><circle cx="251.6" cy="3302.4" r="2.7" fill="#4b4b4d"/>
</svg>

<div class="l" style="left:208.8px;top:197.5px;font-size:63px;transform:scaleX(0.9579);text-shadow:2.5px 3px 0 #0a1428;color:#ffd31c;font-weight:bold;-webkit-text-stroke:2.6px #ffd31c;">WORLDWIDE</div>
<div class="l" style="left:114.7px;top:277.8px;font-size:63px;transform:scaleX(0.9202);text-shadow:2.5px 3px 0 #0a1428;color:#ffd31c;font-weight:bold;-webkit-text-stroke:2.6px #ffd31c;">HAIR RESTORATION</div>
<div class="l" style="left:286.4px;top:360.7px;font-size:63px;transform:scaleX(0.8945);text-shadow:2.5px 3px 0 #0a1428;color:#ffd31c;font-weight:bold;-webkit-text-stroke:2.6px #ffd31c;">TRENDS</div>
<div class="l" style="left:112px;top:435px;font-size:47px;transform:scaleX(0.9721);color:#10225e;-webkit-text-stroke:1.5px #10225e;text-shadow:3px 3px 1px rgba(255,255,255,.95);">2025 Practice Census Results</div>
<div class="l" style="left:438px;top:550px;font-size:42px;transform:scaleX(1.1103);"><b>What’s Trending</b></div>
<div class="l" style="left:114px;top:642px;font-size:24px;transform:scaleX(1.1544);">The average number of</div>
<div class="l" style="left:114px;top:673px;font-size:24px;transform:scaleX(1.1728);">patients per member increased</div>
<div class="l" style="left:114px;top:715px;font-size:24px;transform:scaleX(1.0994);">by <b style="font-size:34px;color:#fbdc58;">20%</b> since 2021</div>
<div class="l" style="left:647px;top:635px;font-size:24px;transform:scaleX(1.1274);"><b>Female hair restoration</b> surgical</div>
<div class="l" style="left:647px;top:664px;font-size:24px;transform:scaleX(1.1680);">patients treated in 2024</div>
<div class="l" style="left:647px;top:707px;font-size:24px;transform:scaleX(1.0957);">increased <b style="font-size:34px;color:#fdd92a;">16.5%</b>  from 2021</div>
<div class="l" style="left:351px;top:812px;font-size:53px;transform:scaleX(1.1407);"><b>40%</b></div>
<div class="l" style="left:481.5px;top:812px;font-size:24px;transform:scaleX(1.1379);">of ISHRS members reported an</div>
<div class="l" style="left:350px;top:842px;font-size:24px;transform:scaleX(1.1367);"><b>increase in transgender</b> hair transplants in 2024</div>
<div class="l" style="left:126px;top:979.5px;font-size:47px;transform:scaleX(1.1692);"><b>67%</b></div>
<div class="l" style="left:119px;top:1019px;font-size:24px;transform:scaleX(1.1427);">of ISHRS members reported</div>
<div class="l" style="left:119px;top:1048px;font-size:24px;transform:scaleX(1.1672);">performing an average of</div>
<div class="l" style="left:119px;top:1078px;font-size:24px;transform:scaleX(1.1400);"><b>one procedure</b> to achieve the</div>
<div class="l" style="left:119px;top:1107px;font-size:24px;transform:scaleX(1.1678);">desired hair restoration result</div>
<div class="l" style="left:582px;top:1010px;font-size:24px;transform:scaleX(1.1628);">The average number of hair restoration</div>
<div class="l" style="left:582px;top:1039px;font-size:24px;transform:scaleX(1.1781);">surgeries performed per member per</div>
<div class="l" style="left:582px;top:1082px;font-size:24px;transform:scaleX(1.1523);">month was <b style="font-size:34px;">15</b>, which reflects the</div>
<div class="l" style="left:582px;top:1111px;font-size:24px;transform:scaleX(1.1150);"><b>hands-on nature</b> of ISHRS physicians</div>
<div class="l" style="left:121px;top:1195px;font-size:24px;transform:scaleX(1.1300);"><b>Nonsurgical</b> patients have increased by <b style="font-size:34px;">30%</b> since 2021, showing more</div>
<div class="l" style="left:121px;top:1224px;font-size:24px;transform:scaleX(1.1541);">people are seeking help for hair loss</div>
<div class="l" style="left:279px;top:1323px;font-size:42px;transform:scaleX(1.0855);"><b>Body Hair Transplantation Grows</b></div>
<div class="l" style="left:252px;top:1409px;font-size:24px;transform:scaleX(1.1386);color:#fff;">The percentage of men seeking <b style="color:#fce37c;">non-scalp hair restoration</b></div>
<div class="l" style="left:252px;top:1452px;font-size:24px;transform:scaleX(1.1012);color:#fff;">procedures increased to <b style="font-size:35px;color:#fdd85c;">18%</b> in  2024, up from 13% in 2021</div>
<div class="l" style="left:77px;top:1640px;font-size:24px;transform:scaleX(1.1704);">After scalp, the next highest percentage</div>
<div class="l" style="left:77px;top:1669px;font-size:24px;transform:scaleX(1.1847);">of transplantation to recipient area for</div>
<div class="l" style="left:77px;top:1711px;font-size:24px;transform:scaleX(1.0787);">females was <b style="font-size:30px;">eyebrows</b>, at <b style="font-size:34px;">12%</b></div>
<div class="l" style="left:811px;top:1590px;font-size:24px;transform:scaleX(1.1682);">After scalp, the next highest</div>
<div class="l" style="left:811px;top:1619px;font-size:24px;transform:scaleX(1.1837);">percentage of transplantation</div>
<div class="l" style="left:811px;top:1649px;font-size:24px;transform:scaleX(1.1536);">to recipient area for males was</div>
<div class="l" style="left:811px;top:1689px;font-size:24px;transform:scaleX(1.0896);"><b style="font-size:30px;">moustache/beards</b>, at <b style="font-size:34px;">5%</b></div>
<div class="l" style="left:510px;top:1824px;font-size:42px;transform:scaleX(1.0981);color:#3b8ede;"><b>Age Matters</b></div>
<div class="l" style="left:124px;top:1895px;font-size:24px;transform:scaleX(1.1579);">The majority of those seeking</div>
<div class="l" style="left:124px;top:1924.5px;font-size:24px;transform:scaleX(1.1666);">surgery for the <b>first time</b> were</div>
<div class="l" style="left:124px;top:1953.5px;font-size:24px;transform:scaleX(1.1469);">between the ages of <b style="color:#3b8ede;">26-35</b></div>
<div class="l" style="left:42px;top:2045.5px;font-size:48.5px;transform:scaleX(1.0971);"><b style="color:#3b8ede;">73%</b></div>
<div class="l" style="left:156px;top:2045.5px;font-size:24px;transform:scaleX(1.1343);">of ISHRS members said they</div>
<div class="l" style="left:39px;top:2071px;font-size:24px;transform:scaleX(1.1724);">have a cutoff age for performing surgery</div>
<div class="l" style="left:39px;top:2100px;font-size:24px;transform:scaleX(1.1234);">on a <b>young patient</b>, with <b style="color:#3b8ede;">22 years old</b></div>
<div class="l" style="left:39px;top:2129px;font-size:24px;transform:scaleX(1.1892);">being the average minimum age reported</div>
<div class="l" style="left:741.5px;top:1904.5px;font-size:49px;transform:scaleX(1.1419);"><b>80%</b></div>
<div class="l" style="left:864px;top:1904.5px;font-size:24px;transform:scaleX(1.1246);">of ISHRS members said they</div>
<div class="l" style="left:746.5px;top:1935px;font-size:24px;transform:scaleX(1.1623);">do not have a <b>cutoff age</b> for performing</div>
<div class="l" style="left:746.5px;top:1964.4px;font-size:24px;transform:scaleX(1.1579);">surgery on an elderly patient. For those</div>
<div class="l" style="left:746.5px;top:1993.6px;font-size:24px;transform:scaleX(1.1231);">who have a cutoff age, <b>72 years old</b> was</div>
<div class="l" style="left:746.5px;top:2023px;font-size:24px;transform:scaleX(1.1696);">the average maximum age reported.</div>
<div class="l" style="left:627px;top:2089px;font-size:24px;transform:scaleX(1.1646);"><b>Over half</b> of both male and female hair restoration</div>
<div class="l" style="left:627px;top:2118px;font-size:24px;transform:scaleX(1.1701);">surgical patients fell between the ages of <b>30-49</b></div>
<div class="l" style="left:387px;top:2222px;font-size:42px;transform:scaleX(1.1126);"><b>Impact of Black Market</b></div>
<div class="l" style="left:39px;top:2279px;font-size:24px;transform:scaleX(1.1565);"><b>What is the black market?</b>  The black market in hair restoration surgery is nuanced. It includes</div>
<div class="l" style="left:65px;top:2309px;font-size:24px;transform:scaleX(1.1501);">several scenarios. In one of its most egregious forms, a black market clinic has no physician</div>
<div class="l" style="left:83px;top:2338px;font-size:24px;transform:scaleX(1.1849);">involved in the surgery and is fraudulently misrepresenting the procedure to exploit the</div>
<div class="l" style="left:175px;top:2367px;font-size:24px;transform:scaleX(1.1779);">patient unethically and, in most cases, operating illegally in their country.</div>
<div class="l" style="left:400px;top:2396px;font-size:24px;transform:scaleX(1.1357);">See more at FighttheFight.ISHRS.org</div>
<div class="l" style="left:230px;top:2468.5px;font-size:36px;transform:scaleX(1.1795);"><b>59%</b></div>
<div class="l" style="left:102px;top:2506px;font-size:24px;transform:scaleX(1.1394);">of ISHRS members reported</div>
<div class="l" style="left:108px;top:2535px;font-size:24px;transform:scaleX(1.1592);">there are Black Market hair</div>
<div class="l" style="left:82px;top:2564px;font-size:24px;transform:scaleX(1.1513);">transplant clinics in <b>their cities</b>,</div>
<div class="l" style="left:155px;top:2593.5px;font-size:24px;transform:scaleX(1.0746);">up from 51% in 2021</div>
<div class="l" style="left:817px;top:2490px;font-size:24px;transform:scaleX(1.1520);">The average percentage of</div>
<div class="l" style="left:797px;top:2519px;font-size:24px;transform:scaleX(1.1242);"><b>repair cases</b> due to a previous</div>
<div class="l" style="left:780px;top:2547px;font-size:24px;transform:scaleX(1.1797);">black market hair transplant was</div>
<div class="l" style="left:834px;top:2584px;font-size:24px;transform:scaleX(1.0770);"><b style="font-size:30px;">10%,</b> up from 6% in 2021</div>
<div class="l" style="left:361px;top:2681px;font-size:42px;transform:scaleX(1.1040);"><b>What Patients Are Saying</b></div>
<div class="l" style="left:78px;top:2894.5px;font-size:46px;transform:scaleX(1.1458);"><b style="color:#5ba8dd;">44%</b></div>
<div class="l" style="left:194px;top:2894.5px;font-size:24px;transform:scaleX(1.1502);">of hair transplant patients ISHRS</div>
<div class="l" style="left:77px;top:2923px;font-size:24px;transform:scaleX(1.1533);">members treated in 2024 <b>planned to tell</b></div>
<div class="l" style="left:77px;top:2950.5px;font-size:24px;transform:scaleX(1.1671);"><b>others</b> that they had a hair transplant</div>
<div class="l" style="left:640px;top:2771px;font-size:24px;transform:scaleX(1.1650);">The <b>top 3</b> most common reasons that members</div>
<div class="l" style="left:640px;top:2800px;font-size:24px;transform:scaleX(1.1941);">reported that their patients chose to undergo</div>
<div class="l" style="left:640px;top:2828px;font-size:24px;transform:scaleX(1.1784);">hair transplantation were to:</div>
<div class="l" style="left:640px;top:2870px;font-size:24px;transform:scaleX(1.1788);">• Become/feel more attractive</div>
<div class="l" style="left:640px;top:2900px;font-size:24px;transform:scaleX(1.1795);">• Appear younger to compete in the workplace</div>
<div class="l" style="left:640px;top:2929px;font-size:24px;transform:scaleX(1.1704);">• Improve appearance for upcoming event</div>
<div class="l" style="left:192px;top:3058px;font-size:42px;transform:scaleX(1.0924);"><b>ISHRS Members Devoted to the Specialty</b></div>
<div class="l" style="left:300px;top:3136.5px;font-size:46.5px;transform:scaleX(1.0959);"><b style="color:#fce37c;">64%</b></div>
<div class="l" style="left:410px;top:3136.5px;font-size:24px;transform:scaleX(1.1368);">of ISHRS members devote the majority (76% or more)</div>
<div class="l" style="left:299px;top:3166px;font-size:24px;transform:scaleX(1.1538);">of their practice to hair restoration surgery, while 35% dedicate <b>100%</b></div>
<div class="l" style="left:299px;top:3195px;font-size:24px;transform:scaleX(1.1569);">of their practice to it — illustrating that the ISHRS is the <b>go-to society</b></div>
<div class="l" style="left:299px;top:3225px;font-size:24px;transform:scaleX(1.1730);">for all things related to hair restoration surgery.</div>
<div class="l" style="left:370px;top:3313px;font-size:31px;transform:scaleX(1.1399);color:#fff;"><b>ISHRS.org/2025-practice-census</b></div>
</div>
</body></html>
